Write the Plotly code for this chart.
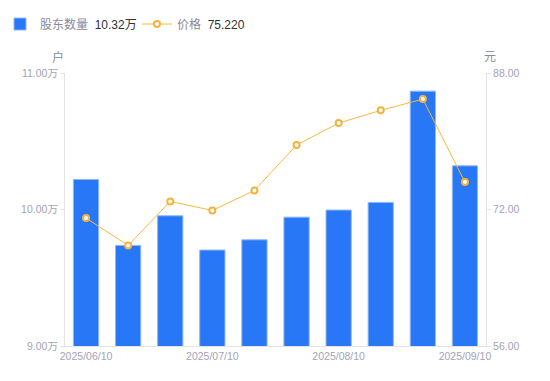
import plotly.graph_objects as go

dates = ["2025/06/10", "2025/06/20", "2025/06/30", "2025/07/10", "2025/07/20",
         "2025/07/31", "2025/08/10", "2025/08/20", "2025/08/31", "2025/09/10"]
holders = [10.22, 9.737, 9.954, 9.703, 9.778, 9.944, 9.996, 10.052, 10.867, 10.32]  # 万户
price = [70.99, 67.79, 72.95, 71.89, 74.24, 79.55, 82.13, 83.62, 84.94, 75.22]
xtick_idx = [0, 3, 6, 9]
left_ticks = [9, 10, 11]
right_ticks = [56, 72, 88]

FONT = "Liberation Sans, Arial, Noto Sans CJK SC, sans-serif"
GREY = "#a3a3b5"
AXIS = "#e3e3e8"

fig = go.Figure()
fig.add_trace(go.Bar(
    x=dates, y=holders, width=0.6,
    name="股东数量  <span style='color:#333333'>10.32万</span>",
    marker=dict(color="#2777f6", line=dict(color="#8fb8fa", width=1)),
    yaxis="y",
))
fig.add_trace(go.Scatter(
    x=dates, y=price, mode="lines+markers",
    name="价格  <span style='color:#333333'>75.220</span>",
    line=dict(color="#f6b93c", width=1),
    marker=dict(symbol="circle", size=6, color="white",
                line=dict(color="#f6b23a", width=2)),
    yaxis="y2",
))

fig.update_layout(
    width=550, height=381,
    margin=dict(l=65, r=64, t=73, b=35),
    plot_bgcolor="white", paper_bgcolor="white",
    font=dict(family=FONT, size=11, color=GREY),
    showlegend=True,
    legend=dict(orientation="h", xref="container", yref="container",
                x=-0.005, y=0.975, xanchor="left", yanchor="top",
                font=dict(size=12, color="#8a8a99", family=FONT),
                itemwidth=30, tracegroupgap=0,
                entrywidth=92, entrywidthmode="pixels"),
    bargap=0.4,
    xaxis=dict(
        type="category", range=[-0.5, 9.5],
        tickvals=[dates[i] for i in xtick_idx],
        ticktext=[dates[i] for i in xtick_idx],
        showline=True, linecolor=AXIS, linewidth=1,
        ticks="", showgrid=False, zeroline=False, automargin=False,
        tickfont=dict(size=10.5, color=GREY),
    ),
    yaxis=dict(
        range=[9, 11], tickvals=left_ticks,
        ticktext=[f"{v:.2f}万" for v in left_ticks],
        showline=True, linecolor=AXIS, linewidth=1,
        ticks="outside", ticklen=4, tickcolor=AXIS,
        showgrid=False, zeroline=False, automargin=False,
        tickfont=dict(size=10.5, color=GREY),
    ),
    yaxis2=dict(
        range=[56, 88], tickvals=right_ticks,
        ticktext=[f"{v:.2f}" for v in right_ticks],
        overlaying="y", side="right",
        showline=True, linecolor=AXIS, linewidth=1,
        ticks="outside", ticklen=4, tickcolor=AXIS,
        showgrid=False, zeroline=False, automargin=False,
        tickfont=dict(size=10.5, color=GREY),
    ),
    annotations=[
        dict(text="户", xref="paper", yref="paper", x=0, y=1, xshift=-7, yshift=16,
             xanchor="center", yanchor="middle",
             showarrow=False, font=dict(size=12, color="#8a8a99")),
        dict(text="元", xref="paper", yref="paper", x=1, y=1, xshift=4, yshift=16,
             xanchor="center", yanchor="middle",
             showarrow=False, font=dict(size=12, color="#8a8a99")),
    ],
)

fig.write_html("out.html", config={"displayModeBar": False},
               post_script="document.body.style.margin='0';")
